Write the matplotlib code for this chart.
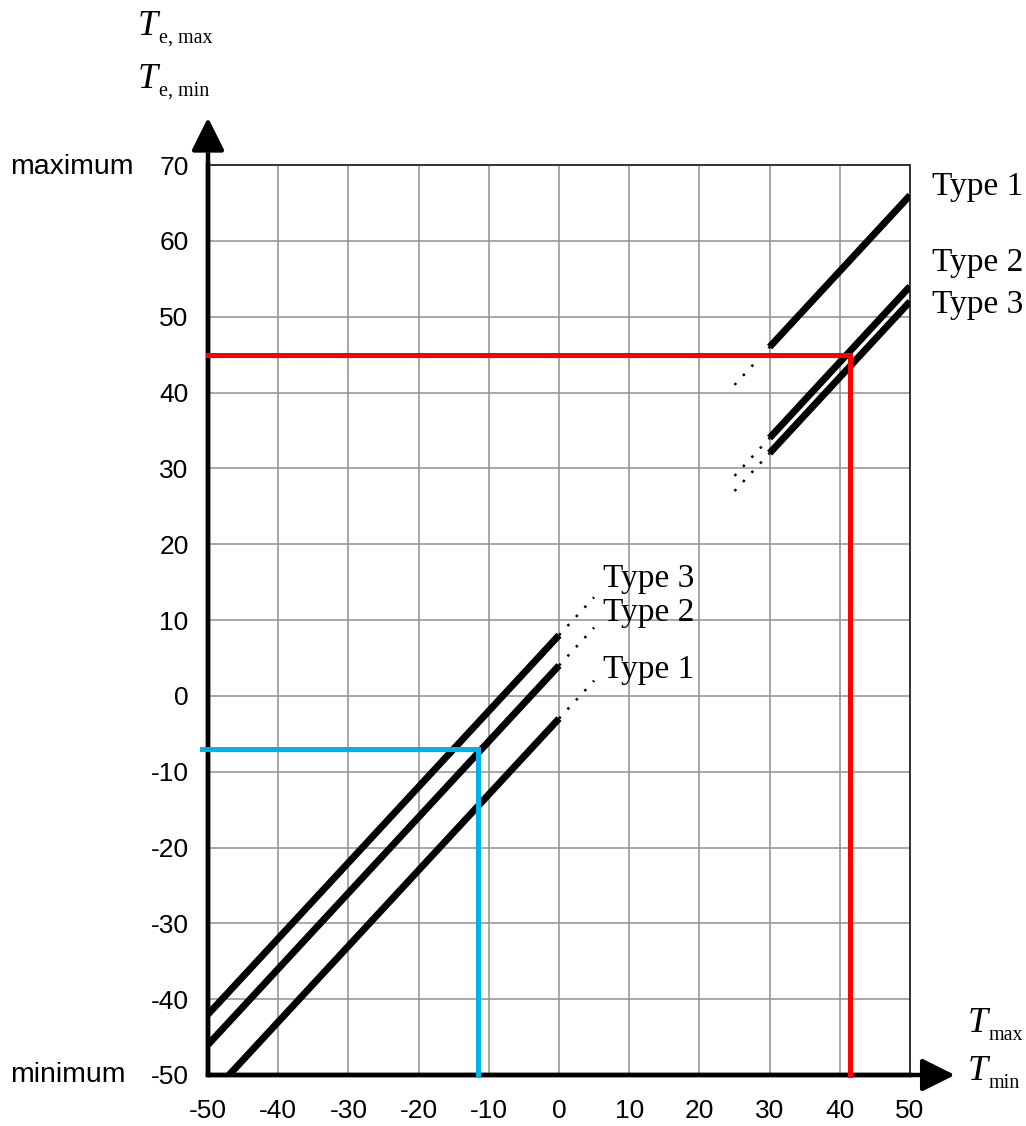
import matplotlib.pyplot as plt

# eje
x_ticks = [-50, -40, -30, -20, -10, 0, 10, 20, 30, 40, 50]
y_ticks = [-50, -40, -30, -20, -10, 0, 10, 20, 30, 40, 50, 60, 70]

# Te,min vs Tmin (tramo inferior)
type_names = ['Type 1', 'Type 2', 'Type 3']
tmin_start = [-47, -50, -50]
tmin_end = [0, 0, 0]
temin_start = [-50, -46, -42]
temin_end = [-3, 4, 8]
tmin_dot_end = [5, 5, 5]
temin_dot_end = [2, 9, 13]

# Te,max vs Tmax (tramo superior)
tmax_start = [30, 30, 30]
tmax_end = [50, 50, 50]
temax_start = [46, 34, 32]
temax_end = [66, 54, 52]
tmax_dot_start = [25, 25, 25]
temax_dot_start = [41, 29, 27]

# ejemplos de lectura
red_t, red_te = 41.5, 45
blue_t, blue_te = -11.5, -7

sans = 'Liberation Sans'
serif = 'Liberation Serif'
W, H = 1026, 1126

fig = plt.figure(figsize=(10.26, 11.26), dpi=100)
ax = fig.add_axes([208 / W, 51 / H, 702 / W, 910 / H])
ax.set_xlim(-50, 50)
ax.set_ylim(-50, 70)
ax.set_xticks(x_ticks)
ax.set_yticks(y_ticks)
ax.set_xticklabels([str(v) for v in x_ticks], fontsize=19, family=sans)
ax.set_yticklabels([str(v) for v in y_ticks], fontsize=19, family=sans)
ax.tick_params(length=0)
ax.tick_params(axis='x', pad=17)
ax.tick_params(axis='y', pad=14)
ax.grid(True, color='#8f8f8f', linewidth=1.1)

for side in ['top', 'right']:
    ax.spines[side].set_color('#333333')
    ax.spines[side].set_linewidth(1.4)
for side in ['left', 'bottom']:
    ax.spines[side].set_linewidth(3.2)

for i in range(3):
    ax.plot([tmin_start[i], tmin_end[i]], [temin_start[i], temin_end[i]],
            color='black', linewidth=5, solid_capstyle='butt', zorder=4)
    ax.plot([tmin_end[i], tmin_dot_end[i]], [temin_end[i], temin_dot_end[i]],
            color='black', linewidth=1.8, linestyle=(0, (1, 4)), zorder=4)
    ax.plot([tmax_start[i], tmax_end[i]], [temax_start[i], temax_end[i]],
            color='black', linewidth=5, solid_capstyle='butt', zorder=4)
    ax.plot([tmax_dot_start[i], tmax_start[i]], [temax_dot_start[i], temax_start[i]],
            color='black', linewidth=1.8, linestyle=(0, (1, 4)), zorder=4)

# lineas de ejemplo
ax.plot([-50, red_t, red_t], [red_te, red_te, -50], color='#ff0000',
        linewidth=3.6, solid_joinstyle='miter', zorder=5, clip_on=False)
ax.plot([-50.8, blue_t, blue_t], [blue_te, blue_te, -50], color='#00b0f0',
        linewidth=3.6, solid_joinstyle='miter', zorder=5, clip_on=False)

# etiquetas de tipo
ax.text(53.1, 67.1, 'Type 1', fontsize=24, family=serif, va='center', clip_on=False)
ax.text(53.1, 57.1, 'Type 2', fontsize=24, family=serif, va='center', clip_on=False)
ax.text(53.1, 51.6, 'Type 3', fontsize=24, family=serif, va='center', clip_on=False)
ax.text(6.2, 15.5, 'Type 3', fontsize=24, family=serif, va='center')
ax.text(6.2, 10.9, 'Type 2', fontsize=24, family=serif, va='center')
ax.text(6.2, 3.4, 'Type 1', fontsize=24, family=serif, va='center')

# flechas de ejes
ax.annotate('', xy=(0, 1.052), xytext=(0, 0), xycoords='axes fraction',
            arrowprops=dict(arrowstyle='-|>,head_length=1.0,head_width=0.5',
                            lw=3.2, color='black', shrinkA=0, shrinkB=0,
                            mutation_scale=20), annotation_clip=False)
ax.annotate('', xy=(1.064, 0), xytext=(0, 0), xycoords='axes fraction',
            arrowprops=dict(arrowstyle='-|>,head_length=1.0,head_width=0.5',
                            lw=3.2, color='black', shrinkA=0, shrinkB=0,
                            mutation_scale=20), annotation_clip=False)


def sym(x, y, sub):
    """T en cursiva con subindice pequeño (coordenadas en pixeles)"""
    fig.text(x / W, 1 - y / H, 'T', fontsize=26, family=serif, style='italic', va='baseline')
    fig.text((x + 21) / W, 1 - (y + 8) / H, sub, fontsize=14.5, family=serif, va='baseline')


# titulos de ejes
sym(138, 35, 'e, max')
sym(138, 88, 'e, min')
sym(968, 1032, 'max')
sym(968, 1080, 'min')

fig.text(10 / W, 1 - 167 / H, 'maximum', fontsize=20.5, family=sans, va='center')
fig.text(10 / W, 1 - 1075 / H, 'minimum', fontsize=20.5, family=sans, va='center')

fig.savefig('out.png', dpi=100)
